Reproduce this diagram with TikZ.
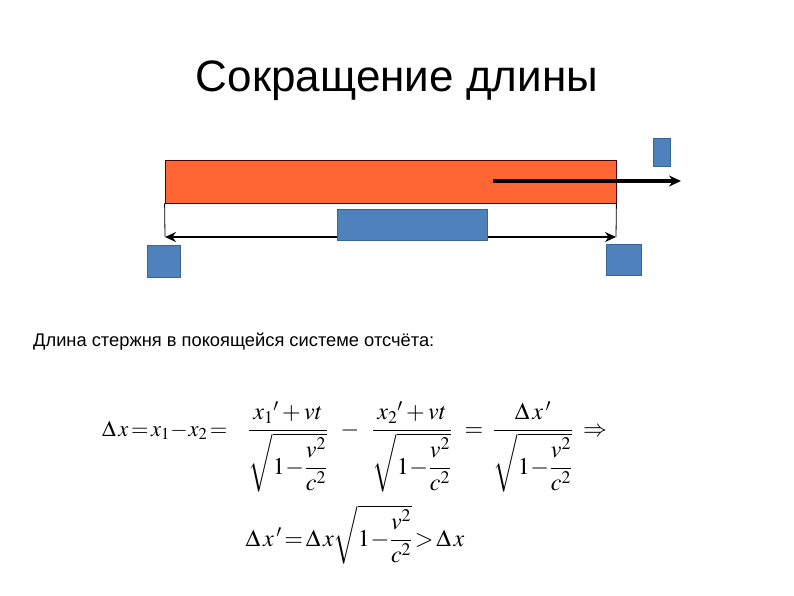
\documentclass[tikz,border=0pt]{standalone}
\usepackage{amsmath}
\usepackage{mathptmx}
\usepackage{fontspec}
\setmainfont{Liberation Sans}
\usetikzlibrary{arrows.meta}
\definecolor{rodred}{HTML}{FF6633}
\definecolor{boxblue}{HTML}{4F81BD}
\definecolor{boxedge}{HTML}{3A6496}
\newcommand{\rootden}{\sqrt{1\!-\!\dfrac{v^2}{c^2}}}
\tikzset{
  bluebox/.style={draw=boxedge, fill=boxblue, line width=0.8pt, inner sep=0pt},
  rodbox/.style={draw=black!70!red, fill=rodred, line width=0.8pt, inner sep=0pt},
  thinline/.style={line width=0.8pt},
  mathtxt/.style={inner sep=0pt, anchor=base, font=\fontsize{24}{28}\selectfont},
}
\begin{document}
\begin{tikzpicture}[x=1pt,y=-1pt]
\useasboundingbox (0,0) rectangle (794,595);
\node[anchor=base, inner sep=0pt] (title) at (397,91) {\fontsize{44}{50}\selectfont Сокращение длины};

\node[rodbox, minimum width=451pt, minimum height=43pt] (rod) at (390.5,181.5) {};
\node[bluebox, minimum width=17pt, minimum height=28pt] (top) at (661.5,152) {};
\coordinate (vs) at (493,181);
\coordinate (ve) at (681,181);
\draw[line width=3.5pt, -{Stealth[length=12pt,width=11pt]}] (vs) -- (ve);

\coordinate (la) at (165,237);
\coordinate (ra) at (616,237);
\draw[thinline] (rod.south west) -- (la);
\draw[thinline] (rod.south east) -- (ra);
\draw[line width=1.5pt, {Stealth[length=11pt,width=10pt]}-{Stealth[length=11pt,width=10pt]}] (la) -- (ra);
\node[bluebox, minimum width=150pt, minimum height=31pt] (mid) at (412,224.5) {};
\node[bluebox, minimum width=33pt, minimum height=32pt] (lsq) at (163.5,261) {};
\node[bluebox, minimum width=35pt, minimum height=31pt] (rsq) at (623.5,259.5) {};

\node[anchor=base west, inner sep=0pt, font=\fontsize{18.3}{21}\selectfont] (txt) at (33,346) {Длина стержня в покоящейся системе отсчёта:};

\node[mathtxt, anchor=base west, font=\fontsize{22.5}{27}\selectfont] (e1) at (102,436) {$\Delta\,x\! =\! x_1 \!-\! x_2\! =$};
\node[mathtxt] (f1) at (288,436) {$\dfrac{x_1{}' + vt}{\rootden}$};
\node[mathtxt] (m1) at (350,436) {$-$};
\node[mathtxt] (f2) at (412,436) {$\dfrac{x_2{}' + vt}{\rootden}$};
\node[mathtxt] (m2) at (474,436) {$=$};
\node[mathtxt] (f3) at (533,436) {$\dfrac{\Delta\,x\,'}{\rootden}$};
\node[mathtxt] (m3) at (595,436) {$\Rightarrow$};
\node[mathtxt] (e2) at (355,546) {$\Delta\,x\,'\! =\! \Delta\,x\sqrt{1\!-\!\dfrac{v^2}{c^2}}\!>\!\Delta\,x$};
\end{tikzpicture}
\end{document}
